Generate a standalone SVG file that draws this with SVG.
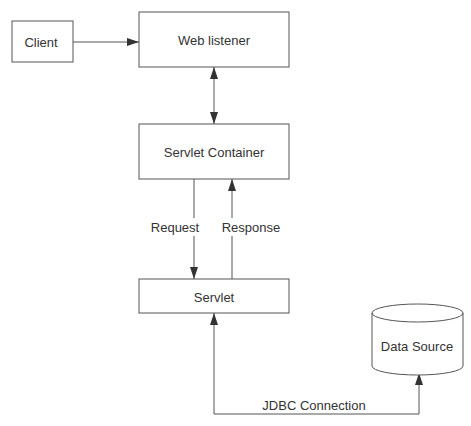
<svg xmlns="http://www.w3.org/2000/svg" width="471" height="426" viewBox="0 0 471 426">
<style>
.box{fill:#fff;stroke:#555;stroke-width:1}
.t{font-family:"Liberation Sans",Arial,sans-serif;font-size:13px;fill:#333;text-anchor:middle;dominant-baseline:central}
.c{fill:none;stroke:#555;stroke-width:1}
</style>
<defs>
<marker id="ah" viewBox="0 0 12 10" refX="12" refY="5" markerWidth="12" markerHeight="10" markerUnits="userSpaceOnUse" orient="auto-start-reverse">
<path d="M0,1 L12,5 L0,9 Z" fill="#333"/>
</marker>
</defs>
<rect width="471" height="426" fill="#fff"/>
<g id="connectors">
<line class="c" x1="73" y1="42" x2="139" y2="42" marker-end="url(#ah)"/>
<line class="c" x1="214" y1="67" x2="214" y2="124" marker-start="url(#ah)" marker-end="url(#ah)"/>
<line class="c" x1="194" y1="179" x2="194" y2="279" marker-end="url(#ah)"/>
<line class="c" x1="232" y1="279" x2="232" y2="179" marker-end="url(#ah)"/>
<polyline class="c" points="214,313 214,414 419,414 419,373" marker-start="url(#ah)" marker-end="url(#ah)"/>
<rect x="168" y="218" width="52" height="18" fill="#fff"/>
<rect x="220" y="218" width="64" height="18" fill="#fff"/>
<text class="t" x="175" y="227">Request</text>
<text class="t" x="251" y="227">Response</text>
<text class="t" x="314" y="405">JDBC Connection</text>
</g>
<g id="client">
<rect class="box" x="12" y="21" width="61" height="41"/>
<text class="t" x="41" y="42">Client</text>
</g>
<g id="web-listener">
<rect class="box" x="139" y="12" width="150" height="55"/>
<text class="t" x="214" y="40">Web listener</text>
</g>
<g id="servlet-container">
<rect class="box" x="139" y="124" width="150" height="55"/>
<text class="t" x="214" y="152">Servlet Container</text>
</g>
<g id="servlet">
<rect class="box" x="139" y="279" width="150" height="34"/>
<text class="t" x="214" y="297">Servlet</text>
</g>
<g id="data-source">
<path class="box" d="M372,313 A45.5,9 0 0 1 463,313 L463,366 A45.5,9 0 0 1 372,366 Z"/>
<path class="c" d="M372,313 A45.5,9 0 0 0 463,313"/>
<text class="t" x="417" y="346">Data Source</text>
</g>
</svg>
